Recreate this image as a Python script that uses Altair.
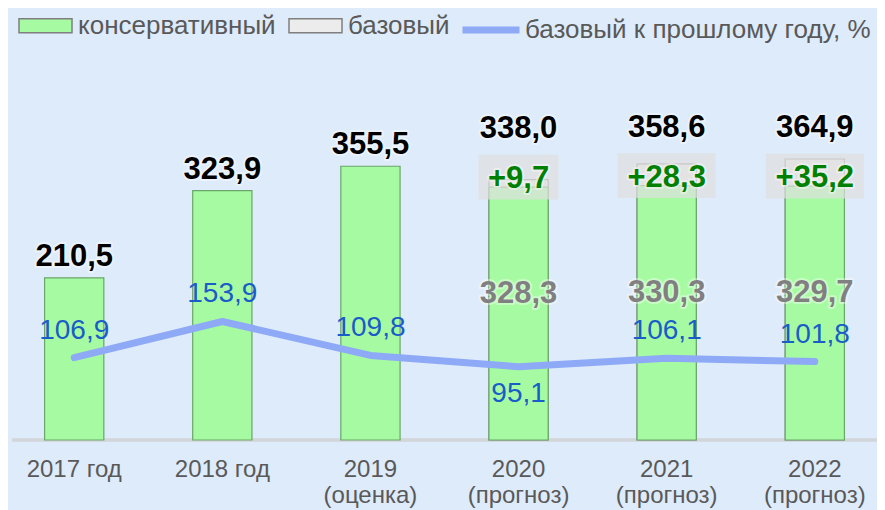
import altair as alt
import pandas as pd

# ---------------- data ----------------
years = ["2017 год", "2018 год", "2019|(оценка)", "2020|(прогноз)", "2021|(прогноз)", "2022|(прогноз)"]
conservative = [210.5, 323.9, 355.5, 328.3, 330.3, 329.7]
base = [None, None, None, 338.0, 358.6, 364.9]
base_increase = [None, None, None, 9.7, 28.3, 35.2]
base_pct = [106.9, 153.9, 109.8, 95.1, 106.1, 101.8]

S_CONS = "консервативный"
S_BASE = "базовый"
S_PCT = "базовый к прошлому году, %"

FONT = "Liberation Sans"


def fmt(v):
    return f"{v:.1f}".replace(".", ",")


rows = []
for i, y in enumerate(years):
    fc = base[i] is not None
    total = base[i] if fc else conservative[i]
    rows.append(dict(
        year=y, cons=conservative[i], base=total, total=total, pct=base_pct[i],
        forecast=fc, add=base_increase[i] if fc else 0.0,
        total_lbl=fmt(total), cons_lbl=fmt(conservative[i]), pct_lbl=fmt(base_pct[i]),
        add_lbl=("+" + fmt(base_increase[i])) if fc else "",
        s_cons=S_CONS, s_base=S_BASE, s_pct=S_PCT,
    ))
df = pd.DataFrame(rows)

# ---------------- encodings ----------------
ysc = alt.Scale(domain=[0, 561], nice=False, zero=True)
xenc = alt.X(
    "year:N", sort=years,
    scale=alt.Scale(paddingInner=0.6, paddingOuter=0.22),
    axis=alt.Axis(title=None, domain=False, ticks=False, labelAngle=0,
                  labelExpr="split(datum.label, '|')", labelFontSize=24,
                  labelFont=FONT, labelColor="#595959", labelPadding=17,
                  labelLineHeight=26),
)
fill_scale = alt.Scale(domain=[S_CONS, S_BASE], range=["#a6fba2", "#ececec"])
fill_legend = alt.Legend(orient="none", legendX=6, legendY=-10, direction="horizontal",
                         title=None, padding=0,
                         symbolType="M-1,-0.264L1,-0.264L1,0.264L-1,0.264Z", symbolSize=2809,
                         symbolStrokeColor="#7f7f7f", symbolStrokeWidth=1.5,
                         labelFontSize=26, labelFont=FONT, labelColor="#595959",
                         columnPadding=10, labelOffset=5, labelLimit=400)

base_chart = alt.Chart(df)

baseline = base_chart.mark_rule(color="#d2d5d9", strokeWidth=2.5).encode(
    y=alt.Y("zero:Q", scale=ysc, axis=None)
).transform_calculate(zero="0")

bars_base = base_chart.transform_filter("datum.forecast").mark_bar(
    stroke="#8c8c8c", strokeWidth=1.2).encode(
    x=xenc,
    y=alt.Y("base:Q", scale=ysc),
    fill=alt.Fill("s_base:N", scale=fill_scale, legend=fill_legend),
)
bars_cons = base_chart.mark_bar(stroke="#6aa56a", strokeWidth=1.2).encode(
    x=xenc,
    y=alt.Y("cons:Q", scale=ysc),
    fill=alt.Fill("s_cons:N", scale=fill_scale, legend=fill_legend),
)


def box_layer(filt, w):
    return base_chart.transform_filter(filt).transform_calculate(
        box_lo="datum.cons - 16", box_hi="datum.cons + 42",
    ).mark_bar(width=w, fill="#e0e0e0", opacity=0.7).encode(
        x=xenc,
        y=alt.Y("box_lo:Q", scale=ysc),
        y2="box_hi:Q",
    )


boxes_small = box_layer("datum.forecast && datum.add < 10", 80)
boxes_big = box_layer("datum.forecast && datum.add >= 10", 98)

line = base_chart.mark_line(strokeWidth=7, strokeCap="round", strokeJoin="round").encode(
    x=xenc,
    y=alt.Y("pct:Q", scale=ysc),
    color=alt.Color("s_pct:N", scale=alt.Scale(range=["#8eaaf7"]),
                    legend=alt.Legend(orient="none", legendX=447, legendY=-10, title=None,
                                      padding=0, symbolSize=3249,
                                      symbolStrokeWidth=7, labelFontSize=26, labelFont=FONT,
                                      labelColor="#595959", labelOffset=2, labelLimit=500)),
)


def glow_text(chart, field, yfield, dy, color, size, bold=True, glow=True):
    weight = "bold" if bold else "normal"
    layers = []
    if glow:
        layers.append(chart.mark_text(dy=dy, fontSize=size, fontWeight=weight, font=FONT,
                                      baseline="middle", stroke="white", strokeWidth=4,
                                      strokeOpacity=0.4, strokeJoin="round", fill="white").encode(
            x=xenc, y=alt.Y(f"{yfield}:Q", scale=ysc), text=f"{field}:N"))
    layers.append(chart.mark_text(dy=dy, fontSize=size, fontWeight=weight, font=FONT,
                                  baseline="middle", color=color).encode(
        x=xenc, y=alt.Y(f"{yfield}:Q", scale=ysc), text=f"{field}:N"))
    return layers


hist = base_chart.transform_filter("!datum.forecast")
fore = base_chart.transform_filter("datum.forecast")
below = base_chart.transform_filter("datum.pct < 100")
above = base_chart.transform_filter("datum.pct >= 100")

texts = []
texts += glow_text(hist, "total_lbl", "total", -21, "#000000", 31)
texts += glow_text(fore, "total_lbl", "cons", -58, "#000000", 31)
texts += glow_text(fore, "add_lbl", "cons", -8, "#008000", 31)
texts += glow_text(fore, "cons_lbl", "cons", 107, "#808080", 31)
texts += glow_text(above, "pct_lbl", "pct", -27, "#1a5cc8", 28, bold=False, glow=False)
texts += glow_text(below, "pct_lbl", "pct", 27, "#1a5cc8", 28, bold=False, glow=False)

chart = alt.layer(baseline, bars_base, bars_cons, boxes_small, boxes_big, line, *texts).properties(
    width=865, height=432,
    autosize=alt.AutoSizeParams(type="none"),
    padding={"left": 4, "top": 0, "right": 0, "bottom": 70},
    background="#deebfb",
).configure_view(stroke=None)

chart.save("out.html", embed_options={"renderer": "svg", "actions": False})
